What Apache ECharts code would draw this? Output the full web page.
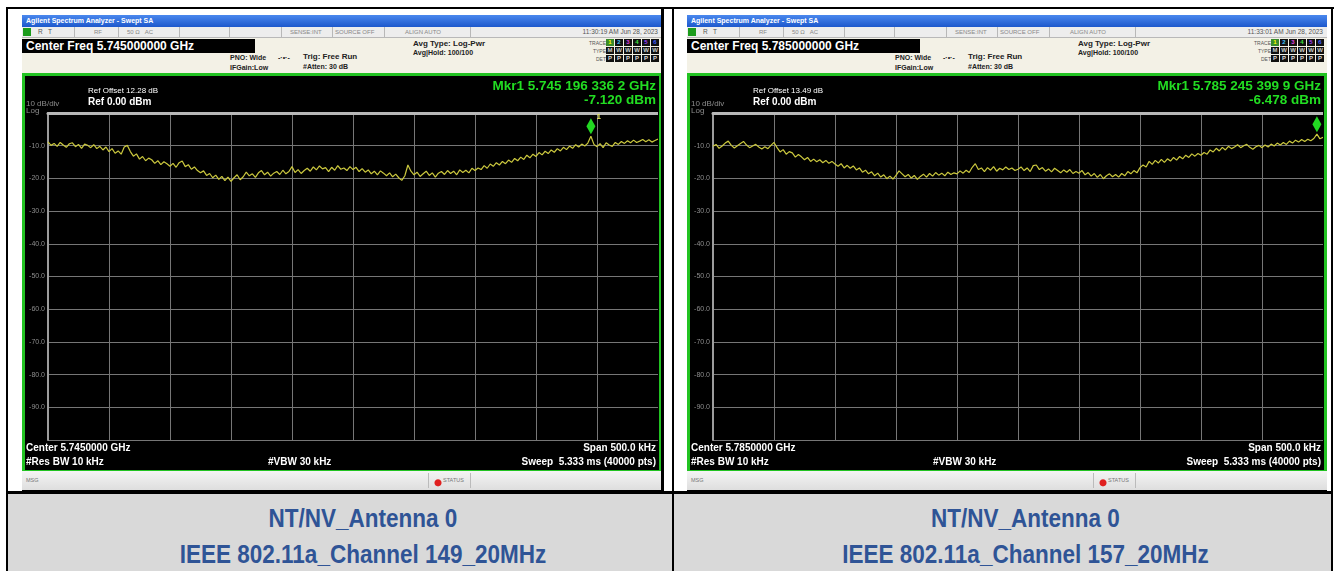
<!DOCTYPE html>
<html>
<head>
<meta charset="utf-8">
<title>Spectrum plots</title>
<script src="https://cdn.jsdelivr.net/npm/echarts@6/dist/echarts.min.js"></script>
<style>
body{margin:0;width:1340px;height:571px;background:#fff;position:relative;overflow:hidden;font-family:"Liberation Sans",Arial,sans-serif}
.ln{position:absolute;background:#000}
.shot{position:absolute;top:15px;width:640px;height:476px;background:#000}
.shot div{position:absolute;white-space:nowrap}
.tbar{left:0;top:0;width:640px;height:12px;background:linear-gradient(#4a88ee,#1d58cc);color:#fff;font-size:7px;line-height:12px;text-indent:4px;font-weight:bold}
.sbar{left:0;top:12px;width:640px;height:10px;background:#ededed;border-bottom:1px solid #b8b8b8;font-size:6.5px;line-height:10px;color:#777}
.sep{top:12px;width:1px;height:10px;background:#b8b8b8}
.panel{left:0;top:23px;width:640px;height:35px;background:#f3f1e6}
.cf{left:0;top:24px;width:233px;height:14px;background:#000;color:#fff;font-size:12px;font-weight:bold;line-height:14px;text-indent:4px}
.t7{font-size:7px;font-weight:bold;color:#222}
.t8{font-size:8px;font-weight:bold;color:#222}
.box{width:8px;height:7px;background:#111;font-size:6px;line-height:7px;text-align:center;font-weight:bold}
.gframe{left:0;top:58px;width:634px;height:394px;border:3px solid #22c322;background:#000}
.msg{left:0;top:456px;width:640px;height:19px;background:linear-gradient(#f4f4f4,#dedede);font-size:5.5px;color:#777;line-height:19px}
.plot{position:absolute;top:76px;width:633px;height:392px}
.cap{position:absolute;top:494px;height:77px;background:#d9d9d9;color:#2f5496;font-weight:bold;font-size:25px;text-align:center}
.cap p{margin:0;line-height:36px;transform:scaleX(0.9)}
</style>
</head>
<body>
<div id="page"></div>
<script>
// trace samples every 2.5 kHz across the 500 kHz span (dBm), 201 points
const traceCh149 = [
  -8.8, -9.9, -9.3, -10.2, -9.0, -9.8, -10.5, -9.4, -9.1, -10.3,
  -9.6, -10.8, -9.5, -9.9, -10.6, -9.7, -10.9, -10.2, -11.3, -10.4,
  -11.8, -10.9, -12.3, -11.6, -12.6, -10.4, -9.9, -11.8, -13.2, -12.5,
  -14.1, -13.3, -14.6, -13.8, -14.3, -15.4, -14.6, -15.8, -14.9, -15.5,
  -16.3, -15.4, -16.6, -15.2, -14.7, -16.4, -15.8, -17.2, -16.5, -17.6,
  -18.3, -17.7, -19.1, -18.5, -19.8, -19.0, -20.3, -19.4, -20.7, -19.6,
  -20.9, -19.8, -18.9, -20.4, -19.5, -18.1, -19.2, -18.6, -19.7, -18.3,
  -17.6, -18.9, -18.1, -19.3, -18.4, -17.9, -18.8, -17.5, -18.6, -17.9,
  -16.4, -18.2, -17.3, -18.5, -17.6, -16.9, -17.8, -16.5, -17.4, -16.2,
  -17.1, -16.7, -17.9, -16.6, -17.5, -16.1, -17.2, -16.8, -17.6, -16.4,
  -17.3, -16.6, -17.9, -17.0, -18.1, -17.4, -18.6, -17.8, -18.9, -17.7,
  -18.4, -19.2, -18.3, -19.5, -18.7, -19.8, -20.6, -19.2, -15.9, -17.8,
  -18.9, -18.1, -19.4, -18.6, -17.8, -19.1, -18.3, -19.6, -18.4, -17.9,
  -18.8, -17.6, -18.5, -17.8, -18.9, -17.4, -18.2, -17.5, -18.3, -16.9,
  -17.6, -16.8, -17.3, -16.1, -16.9, -15.6, -16.3, -15.2, -15.9, -14.8,
  -15.5, -14.4, -15.1, -13.9, -14.6, -13.5, -14.2, -12.9, -13.7, -12.6,
  -13.3, -12.1, -12.8, -11.7, -12.4, -11.3, -12.0, -10.9, -11.6, -10.5,
  -11.2, -10.1, -10.8, -9.7, -10.4, -9.5, -10.1, -9.2, -7.12, -9.6,
  -10.3, -9.4, -10.6, -9.1, -9.8, -10.2, -9.0, -9.6, -8.7, -9.3,
  -8.5, -9.1, -8.3, -9.0, -8.6, -8.1, -8.8, -8.2, -8.9, -8.4,
  -8.0
];
const traceCh157 = [
  -10.2, -9.6, -10.8, -10.1, -9.2, -8.6, -9.9, -10.7, -10.0, -9.3,
  -8.7, -9.8, -10.6, -10.1, -9.6, -10.4, -11.0, -10.3, -10.9, -9.9,
  -9.0, -10.6, -11.9, -11.2, -12.6, -11.8, -12.2, -13.5, -12.7, -13.4,
  -14.3, -13.6, -14.8, -14.1, -14.9, -14.3, -15.2, -14.5, -15.4, -14.8,
  -15.6, -16.3, -15.5, -16.8, -16.0, -16.9, -16.2, -17.4, -16.8, -18.1,
  -17.5, -18.6, -18.0, -19.2, -18.4, -19.6, -18.9, -20.1, -19.3, -20.2,
  -19.1, -17.7, -18.6, -19.5, -18.8, -19.9, -19.1, -20.3, -19.4, -18.7,
  -19.6, -18.5, -19.3, -18.2, -19.0, -18.4, -19.2, -18.1, -18.8, -18.3,
  -18.6, -17.7, -18.4, -17.5, -18.2, -16.6, -15.5, -17.3, -16.8, -17.9,
  -16.7, -17.5, -16.4, -17.8, -16.9, -17.4, -16.5, -17.3, -16.8, -17.6,
  -17.2, -16.5, -17.6, -16.8, -17.9, -16.1, -15.9, -17.3, -16.7, -17.8,
  -17.1, -18.0, -16.9, -17.6, -18.3, -17.4, -18.1, -17.3, -18.5, -17.9,
  -18.4, -17.6, -18.9, -18.2, -19.3, -18.5, -19.7, -18.8, -20.1, -19.2,
  -18.6, -19.5, -18.8, -19.6, -18.5, -19.2, -17.9, -18.6, -17.6, -18.3,
  -16.7, -15.9, -16.5, -14.8, -15.7, -14.5, -15.3, -14.2, -15.1, -14.0,
  -14.7, -13.6, -14.4, -13.3, -14.0, -12.9, -13.6, -12.5, -13.2, -12.4,
  -12.9, -12.1, -12.6, -11.3, -11.9, -10.8, -11.6, -10.5, -11.3, -10.2,
  -10.9, -10.4, -9.7, -10.6, -10.0, -9.6, -10.5, -11.1, -10.3, -9.9,
  -10.6, -9.8, -10.4, -9.5, -10.1, -9.2, -9.8, -9.0, -9.6, -8.6,
  -9.2, -8.3, -8.9, -8.1, -8.7, -8.0, -8.5, -7.8, -6.48, -7.9,
  -7.4
];
const markers = [[195, -7.12], [245, -6.48]];   // offset kHz, dBm
const yTickLabels = ['-10.0', '-20.0', '-30.0', '-40.0', '-50.0', '-60.0', '-70.0', '-80.0', '-90.0'];

const panels = [
  {
    x: 22, trace: traceCh149, marker: markers[0],
    time: '11:30:19 AM Jun 28, 2023',
    center: '5.745000000 GHz', centerShort: '5.7450000 GHz',
    refOffset: '12.28 dB',
    mkrFreq: 'Mkr1 5.745 196 336 2 GHz', mkrVal: '-7.120 dBm',
    caption: ['NT/NV_Antenna 0', 'IEEE 802.11a_Channel 149_20MHz']
  },
  {
    x: 687, trace: traceCh157, marker: markers[1],
    time: '11:33:01 AM Jun 28, 2023',
    center: '5.785000000 GHz', centerShort: '5.7850000 GHz',
    refOffset: '13.49 dB',
    mkrFreq: 'Mkr1 5.785 245 399 9 GHz', mkrVal: '-6.478 dBm',
    caption: ['NT/NV_Antenna 0', 'IEEE 802.11a_Channel 157_20MHz']
  }
]

const page = document.getElementById('page')

const chromeHtml = p => `
  <div class="tbar">Agilent Spectrum Analyzer - Swept SA</div>
  <div class="sbar"></div>
  <div style="left:1px;top:13px;width:8px;height:8px;background:#1c9c1c"></div>
  <div style="left:16px;top:12px;font-size:6.5px;line-height:10px;color:#555">R&nbsp;&nbsp;&nbsp;T</div>
  <div style="left:72px;top:12px;font-size:6px;line-height:10px;color:#888">RF</div>
  <div style="left:105px;top:12px;font-size:6px;line-height:10px;color:#888">50 Ω&nbsp;&nbsp;&nbsp;AC</div>
  <div style="left:268px;top:12px;font-size:6px;line-height:10px;color:#888">SENSE:INT</div>
  <div style="left:313px;top:12px;font-size:6px;line-height:10px;color:#888">SOURCE OFF</div>
  <div style="left:383px;top:12px;font-size:6px;line-height:10px;color:#888">ALIGN AUTO</div>
  <div style="right:4px;top:12px;font-size:6.5px;line-height:10px;color:#555">${p.time}</div>
  ${[52, 96, 157, 207, 259, 310, 362, 448].map(s => `<div class="sep" style="left:${s}px"></div>`).join('')}
  <div class="panel"></div>
  <div class="cf">Center Freq ${p.center}</div>
  <div class="t7" style="left:208px;top:39px">PNO: Wide</div>
  <div class="t7" style="left:208px;top:49px">IFGain:Low</div>
  <div class="t7" style="left:256px;top:39px">-·•·-</div>
  <div class="t8" style="left:281px;top:37px">Trig: Free Run</div>
  <div class="t7" style="left:281px;top:48px">#Atten: 30 dB</div>
  <div class="t8" style="left:391px;top:24px">Avg Type: Log-Pwr</div>
  <div class="t7" style="left:391px;top:34px">Avg|Hold: 100/100</div>
  <div style="right:56px;top:25px;font-size:5px;color:#555">TRACE</div>
  <div style="right:56px;top:33px;font-size:5px;color:#555">TYPE</div>
  <div style="right:56px;top:41px;font-size:5px;color:#555">DET</div>
  ${['#e0e040', '#40c0ff', '#e040e0', '#40e040', '#a040ff', '#4060ff'].map((c, i) => `
    <div class="box" style="left:${584 + i * 9}px;top:24px;color:${c};${i === 0 ? 'background:#3a8a2a;color:#ff0' : ''}">${i + 1}</div>
    <div class="box" style="left:${584 + i * 9}px;top:32px;color:#ccc">${i === 0 ? 'M' : 'W'}</div>
    <div class="box" style="left:${584 + i * 9}px;top:40px;color:#ddd">P</div>`).join('')}
  <div class="gframe"></div>
  <div class="msg"><span style="margin-left:4px">MSG</span></div>
  <div style="left:410px;top:460px;width:10px;height:12px;background:radial-gradient(circle at 60% 65%,#e02020 3px,transparent 4px)"></div>
  <div style="left:421px;top:456px;font-size:5.5px;line-height:19px;color:#777">STATUS</div>
  <div style="left:406px;top:458px;width:1px;height:15px;background:#bbb"></div>
  <div style="left:448px;top:458px;width:1px;height:15px;background:#bbb"></div>`

panels.forEach((p, k) => {
  const shot = document.createElement('div')
  shot.className = 'shot'
  shot.style.left = p.x + 'px'
  shot.innerHTML = chromeHtml(p)
  page.appendChild(shot)

  const plot = document.createElement('div')
  plot.className = 'plot'
  plot.style.left = (p.x + 3) + 'px'
  page.appendChild(plot)

  const cap = document.createElement('div')
  cap.className = 'cap'
  cap.style.left = (k === 0 ? 8 : 674) + 'px'
  cap.style.width = (k === 0 ? 664 : 657) + 'px'
  cap.innerHTML = `<div style="padding:6px 0 0 46px"><p>${p.caption[0]}</p><p>${p.caption[1]}</p></div>`
  page.appendChild(cap)

  const chart = echarts.init(plot)
  const txt = (x, y, text, style) => ({
    type: 'text', left: x, top: y,
    style: Object.assign({ text, fill: '#fff', fontSize: 8, fontFamily: 'Liberation Sans' }, style)
  })
  const rtxt = (y, text, style) => ({
    type: 'text', right: 2, top: y,
    style: Object.assign({ text, fill: '#fff', fontSize: 10, fontWeight: 'bold', fontFamily: 'Liberation Sans' }, style)
  })

  chart.setOption({
    backgroundColor: '#000',
    animation: false,
    grid: { left: 23, top: 37, width: 610, height: 327 },
    xAxis: {
      type: 'value', min: -250, max: 250, interval: 50, position: 'top',
      axisLine: { onZero: false, lineStyle: { color: '#b8b8b8', width: 3 } },
      axisTick: { show: false },
      axisLabel: { show: false },
      splitLine: { lineStyle: { color: '#767676', width: 1 } }
    },
    yAxis: {
      type: 'value', min: -100, max: 0, interval: 10,
      axisLine: { show: true, onZero: false, lineStyle: { color: '#9c9c9c', width: 2 } },
      axisTick: { show: false },
      axisLabel: {
        color: '#8c8c8c', fontSize: 7, margin: 3, fontFamily: 'Liberation Sans',
        formatter: v => yTickLabels[Math.round(-v / 10) - 1] || ''
      },
      splitLine: { lineStyle: { color: '#767676', width: 1 } }
    },
    series: [{
      type: 'line',
      data: p.trace.map((v, i) => [-250 + i * 2.5, v]),
      showSymbol: false,
      lineStyle: { color: '#cbc83e', width: 1.2 },
      markPoint: {
        symbol: 'diamond', symbolSize: [9, 16], symbolOffset: [0, -10],
        itemStyle: { color: '#22d822' },
        label: { show: true, formatter: '1', position: [10, -5], color: '#e8e860', fontSize: 8, fontWeight: 'bold' },
        data: [{ coord: p.marker }]
      }
    }],
    graphic: [
      txt(63, 11, 'Ref Offset ' + p.refOffset),
      txt(63, 21, 'Ref 0.00 dBm', { fontSize: 10, fontWeight: 'bold' }),
      txt(1, 24, '10 dB/div', { fill: '#8c8c8c' }),
      txt(1, 31, 'Log', { fill: '#8c8c8c' }),
      rtxt(3, p.mkrFreq, { fill: '#22dd22', fontSize: 13.5 }),
      rtxt(17, p.mkrVal, { fill: '#22dd22', fontSize: 13.5 }),
      txt(1, 367, 'Center ' + p.centerShort, { fontSize: 10, fontWeight: 'bold' }),
      txt(1, 381, '#Res BW 10 kHz', { fontSize: 10, fontWeight: 'bold' }),
      txt(243, 381, '#VBW 30 kHz', { fontSize: 10, fontWeight: 'bold' }),
      rtxt(367, 'Span 500.0 kHz'),
      rtxt(381, 'Sweep  5.333 ms (40000 pts)')
    ]
  })
})

// outer table borders
;[
  [6, 7, 1328, 2], [6, 7, 2, 564], [1331, 7, 2, 564], [6, 491, 1327, 3],
  [661, 7, 3, 487], [672, 7, 2, 564]
].forEach(([x, y, w, h]) => {
  const d = document.createElement('div')
  d.className = 'ln'
  Object.assign(d.style, { left: x + 'px', top: y + 'px', width: w + 'px', height: h + 'px' })
  page.appendChild(d)
})
</script>
</body>
</html>
